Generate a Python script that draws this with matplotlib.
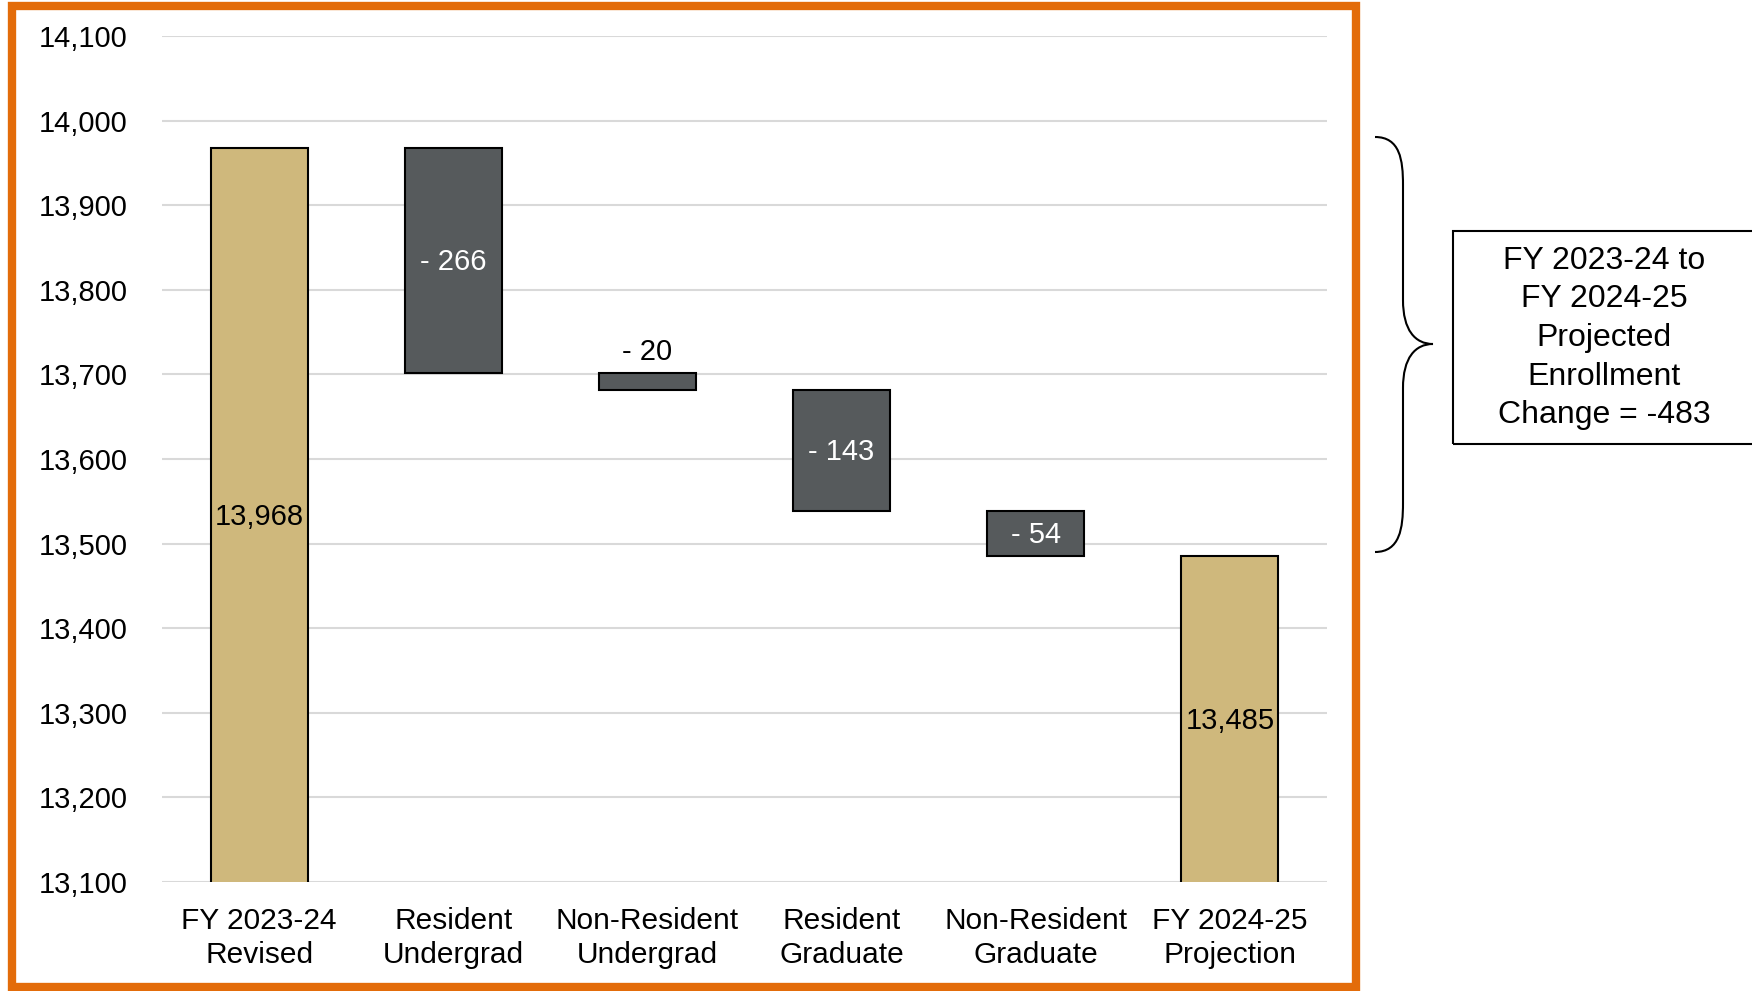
import matplotlib
matplotlib.use("Agg")
import matplotlib.pyplot as plt
from matplotlib.path import Path
from matplotlib.patches import PathPatch, Rectangle
from matplotlib.transforms import ScaledTranslation

plt.rcParams['font.family'] = ['Liberation Sans', 'DejaVu Sans']

categories = ["FY 2023-24\nRevised", "Resident\nUndergrad", "Non-Resident\nUndergrad",
              "Resident\nGraduate", "Non-Resident\nGraduate", "FY 2024-25\nProjection"]
values = [13968, -266, -20, -143, -54, 13485]
is_total = [True, False, False, False, False, True]
yticks = list(range(13100, 14101, 100))
box_text = "FY 2023-24 to\nFY 2024-25\nProjected\nEnrollment\nChange = -483"

GOLD = "#CFB87C"
GRAY = "#565A5C"
ORANGE = "#E36C0A"

W, H = 1752, 991
fig = plt.figure(figsize=(W / 100, H / 100), dpi=100)
ax = fig.add_axes([162 / W, 1 - 882 / H, (1327 - 162) / W, (882 - 36) / H])

running = 0
bottoms, heights, colors = [], [], []
for v, t in zip(values, is_total):
    if t:
        bottoms.append(0)
        heights.append(v)
        colors.append(GOLD)
        running = v
    else:
        bottoms.append(running + v)
        heights.append(-v)
        colors.append(GRAY)
        running = running + v

x = list(range(len(categories)))
ax.bar(x, heights, bottom=bottoms, width=0.5, color=colors, edgecolor="black",
       linewidth=1.5, zorder=3)

down = ax.transData + ScaledTranslation(0, -2 / 100, fig.dpi_scale_trans)
for i, (v, t, b, h) in enumerate(zip(values, is_total, bottoms, heights)):
    if t:
        ax.text(i, (13100 + v) / 2, f"{v:,}", ha="center", va="center",
                fontsize=21, color="black", zorder=4, transform=down)
    else:
        lab = f"- {abs(v)}"
        if abs(v) < 40:
            ax.text(i, b + h + 8, lab, ha="center", va="bottom",
                    fontsize=21, color="black", zorder=4)
        else:
            ax.text(i, b + h / 2, lab, ha="center", va="center",
                    fontsize=21, color="white", zorder=4, transform=down)

ax.set_xlim(-0.5, 5.5)
ax.set_ylim(13100, 14100)
ax.set_yticks(yticks)
ax.set_yticklabels([f"{t:,}" for t in yticks])
ax.set_xticks(x)
ax.set_xticklabels(categories, linespacing=1.29)
ax.tick_params(axis="y", length=0, pad=25, labelsize=21)
ax.tick_params(axis="x", length=0, pad=18, labelsize=21.5)
ax.grid(axis="y", color="#D9D9D9", linewidth=1.5)
ax.set_axisbelow(True)
for s in ax.spines.values():
    s.set_visible(False)

# orange frame
fig.patches.append(Rectangle((11.5 / W, 1 - 986.5 / H), (1356 - 11.5) / W, (986.5 - 6) / H,
                             transform=fig.transFigure, fill=False, edgecolor=ORANGE,
                             linewidth=6, zorder=0))

# brace
def P(px, py):
    return (px / W, 1 - py / H)

verts = [P(1375, 137), P(1400, 137), P(1403, 160), P(1403, 185),
         P(1403, 300),
         P(1403, 330), P(1415, 344), P(1433, 344),
         P(1415, 344), P(1403, 358), P(1403, 388),
         P(1403, 503),
         P(1403, 528), P(1400, 552), P(1375, 552)]
codes = [Path.MOVETO, Path.CURVE4, Path.CURVE4, Path.CURVE4,
         Path.LINETO,
         Path.CURVE4, Path.CURVE4, Path.CURVE4,
         Path.CURVE4, Path.CURVE4, Path.CURVE4,
         Path.LINETO,
         Path.CURVE4, Path.CURVE4, Path.CURVE4]
fig.patches.append(PathPatch(Path(verts, codes), transform=fig.transFigure,
                             fill=False, edgecolor="black", linewidth=1.5))

# annotation box
fig.patches.append(Rectangle(P(1453, 444), (1760 - 1453) / W, (444 - 231) / H,
                             transform=fig.transFigure, fill=False, edgecolor="black",
                             linewidth=1.5))
fig.text(1604 / W, 1 - 338 / H, box_text, ha="center", va="center",
         fontsize=23, linespacing=1.37)

fig.savefig("out.png", dpi=100)
